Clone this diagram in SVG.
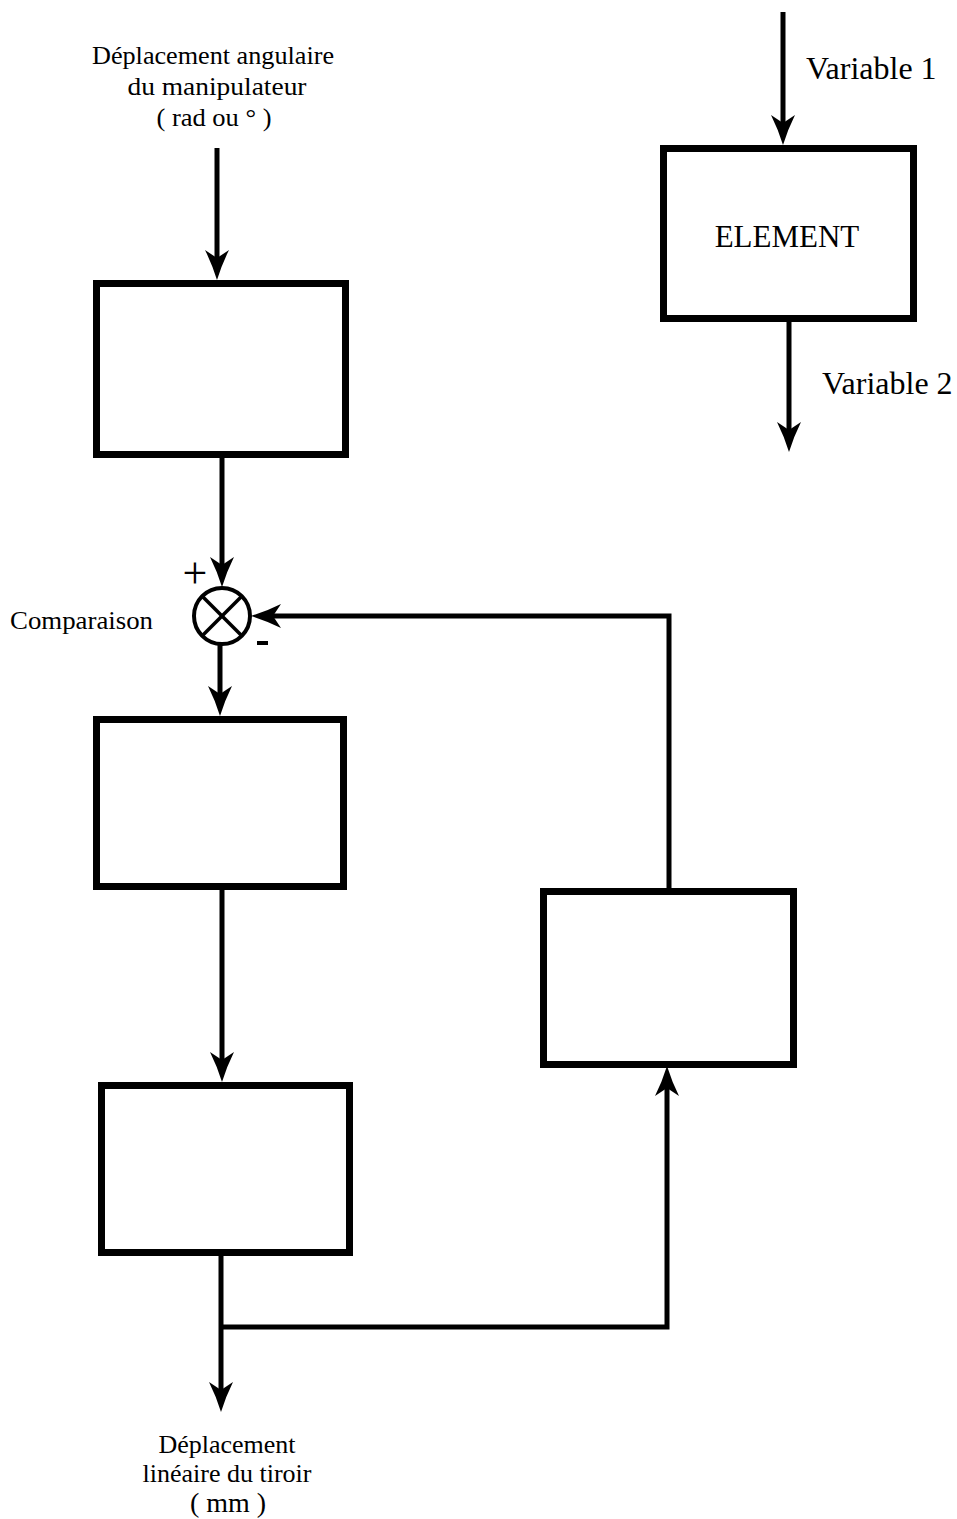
<svg xmlns="http://www.w3.org/2000/svg" width="957" height="1519" viewBox="0 0 957 1519">
<style>
.box{fill:#fff;stroke:#000;stroke-width:7}
.ln{fill:none;stroke:#000;stroke-width:5}
.t{font-family:"Liberation Serif","Times New Roman",serif;fill:#000}
</style>
<defs>
<marker id="arr" markerUnits="userSpaceOnUse" markerWidth="32" markerHeight="26" refX="18" refY="13" orient="auto" viewBox="0 0 32 26">
<path d="M0,1 Q14,8 30,13 Q14,18 0,25 L8,13 Z" fill="#000"/>
</marker>
</defs>
<rect width="957" height="1519" fill="#fff"/>
<g id="connectors">
<line class="ln" x1="217" y1="148" x2="217" y2="268" marker-end="url(#arr)"/>
<line class="ln" x1="222" y1="458" x2="222" y2="575" marker-end="url(#arr)"/>
<polyline class="ln" points="669,889 669,616 263,616" marker-end="url(#arr)"/>
<line class="ln" x1="220" y1="645" x2="220" y2="704" marker-end="url(#arr)"/>
<line class="ln" x1="222" y1="890" x2="222" y2="1070" marker-end="url(#arr)"/>
<line class="ln" x1="221" y1="1256" x2="221" y2="1400" marker-end="url(#arr)"/>
<polyline class="ln" points="221,1327 667,1327 667,1078" marker-end="url(#arr)"/>
<line class="ln" x1="783" y1="12" x2="783" y2="133" marker-end="url(#arr)"/>
<line class="ln" x1="789" y1="322" x2="789" y2="440" marker-end="url(#arr)"/>
</g>
<g id="input-label">
<text class="t" font-size="26" text-anchor="middle" x="213" y="64" textLength="242" lengthAdjust="spacingAndGlyphs">Déplacement angulaire</text>
<text class="t" font-size="26" text-anchor="middle" x="217" y="95" textLength="179" lengthAdjust="spacingAndGlyphs">du manipulateur</text>
<text class="t" font-size="26" text-anchor="middle" x="214" y="126" textLength="115" lengthAdjust="spacingAndGlyphs">( rad ou ° )</text>
</g>
<g id="box1"><rect class="box" x="96.5" y="283.5" width="249" height="171"/></g>
<g id="comparator">
<circle cx="222" cy="616" r="28" fill="#fff" stroke="#000" stroke-width="4"/>
<line x1="202" y1="596" x2="242" y2="636" stroke="#000" stroke-width="3.5"/>
<line x1="242" y1="596" x2="202" y2="636" stroke="#000" stroke-width="3.5"/>
<text class="t" font-size="44" text-anchor="middle" x="195" y="588">+</text>
<rect x="257" y="641" width="11" height="4" fill="#000"/>
<text class="t" font-size="25" x="10" y="629" textLength="143" lengthAdjust="spacingAndGlyphs">Comparaison</text>
</g>
<g id="box2"><rect class="box" x="96.5" y="719.5" width="247" height="167"/></g>
<g id="box3"><rect class="box" x="101.5" y="1085.5" width="248" height="167"/></g>
<g id="box4"><rect class="box" x="543.5" y="891.5" width="250" height="173"/></g>
<g id="output-label">
<text class="t" font-size="26" text-anchor="middle" x="227" y="1453">Déplacement</text>
<text class="t" font-size="26" text-anchor="middle" x="227" y="1482">linéaire du tiroir</text>
<text class="t" font-size="28" text-anchor="middle" x="228" y="1512">( mm )</text>
</g>
<g id="legend">
<rect class="box" x="663.5" y="148.5" width="250" height="170"/>
<text class="t" font-size="31" text-anchor="middle" x="787" y="247">ELEMENT</text>
<text class="t" font-size="32" x="806" y="79">Variable 1</text>
<text class="t" font-size="32" x="822" y="394">Variable 2</text>
</g>
</svg>
